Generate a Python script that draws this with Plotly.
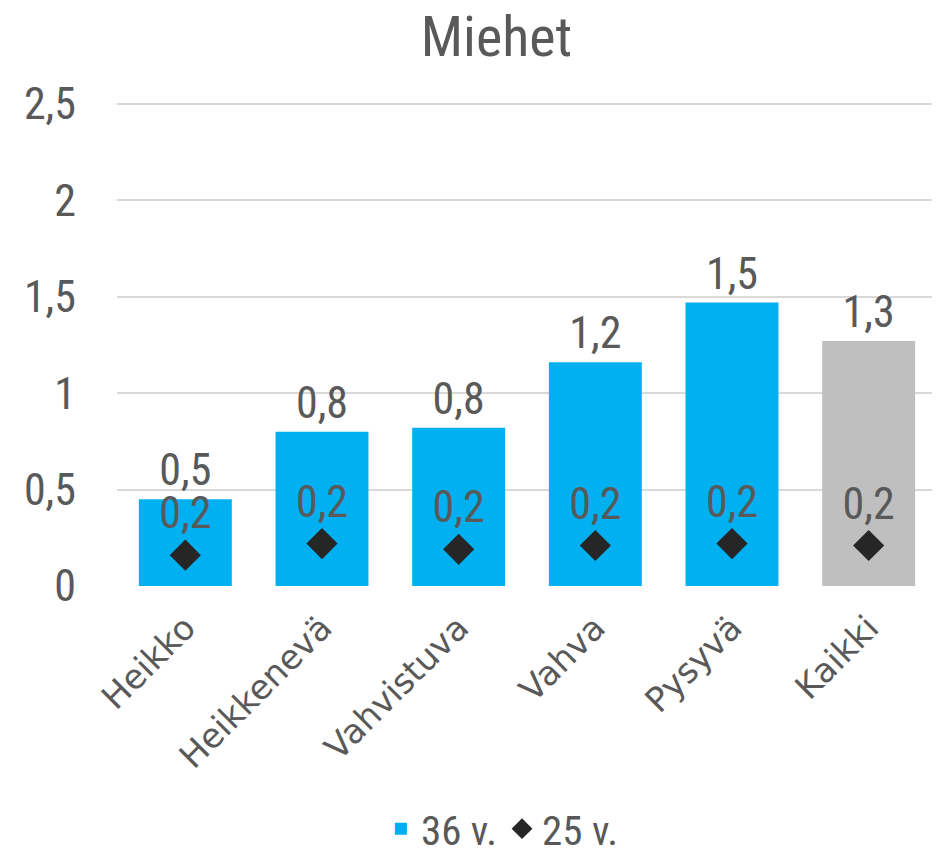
import plotly.graph_objects as go

categories = ["Heikko", "Heikkenevä", "Vahvistuva", "Vahva", "Pysyvä", "Kaikki"]
values_36 = [0.45, 0.80, 0.82, 1.16, 1.47, 1.27]
values_25 = [0.16, 0.22, 0.19, 0.21, 0.22, 0.21]
bar_colors = ["#00B0F0", "#00B0F0", "#00B0F0", "#00B0F0", "#00B0F0", "#BFBFBF"]
yticks = [0, 0.5, 1, 1.5, 2, 2.5]
ytick_text = ["0", "0,5", "1", "1,5", "2", "2,5"]

def fmt(v):
    return f"{v:.1f}".replace(".", ",")

NARROW = "Liberation Sans Narrow, Roboto Condensed, Arial Narrow, sans-serif"
TXT = "#595959"

fig = go.Figure()
fig.add_trace(go.Bar(
    x=categories, y=values_36, name="36 v.",
    marker=dict(color=bar_colors, line=dict(width=0)),
    text=[fmt(v) for v in values_36], textposition="outside",
    textfont=dict(family=NARROW, size=44, color=TXT),
    cliponaxis=False,
))
fig.add_trace(go.Scatter(
    x=categories, y=values_25, name="25 v.", mode="markers+text",
    marker=dict(symbol="diamond", size=24, color="#262626"),
    text=[fmt(v) for v in values_25], textposition="top center",
    textfont=dict(family=NARROW, size=44, color=TXT),
    cliponaxis=False,
))
fig.update_layout(
    width=932, height=853,
    paper_bgcolor="white", plot_bgcolor="white",
    margin=dict(l=109, r=3, t=92, b=275, autoexpand=False),
    title=dict(text="Miehet", x=0.524, xanchor="center", y=0.99, yanchor="top",
               font=dict(family=NARROW, size=56, color=TXT)),
    bargap=0.32,
    showlegend=True,
    legend=dict(orientation="h", x=0.47, xanchor="center", y=-0.50, yanchor="middle",
                font=dict(family=NARROW, size=41, color=TXT), itemwidth=30),
    xaxis=dict(tickangle=-45, tickfont=dict(family="DejaVu Sans", size=34, color=TXT),
               showline=False, ticks="", automargin=False, ticklabelstandoff=14),
    yaxis=dict(range=[0, 2.52], tickvals=yticks, ticktext=ytick_text,
               tickfont=dict(family=NARROW, size=44, color=TXT),
               gridcolor="#D9D9D9", gridwidth=2, zeroline=False, showline=False,
               ticklabelstandoff=40, automargin=False),
)
fig.write_html("out.html")
